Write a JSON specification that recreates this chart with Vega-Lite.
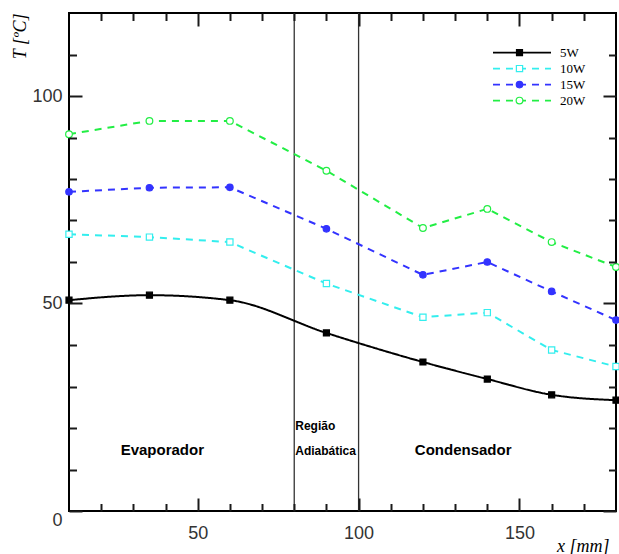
{
  "$schema": "https://vega.github.io/schema/vega-lite/v6.json",
  "width": 547,
  "height": 498,
  "autosize": {"type": "none"},
  "padding": {"left": 69, "top": 13, "right": 3, "bottom": 43},
  "background": "white",
  "config": {
    "view": {"stroke": "black", "strokeWidth": 2},
    "axis": {"grid": false, "labelFont": "Liberation Sans", "labelFontSize": 18, "labelColor": "#333333", "labelFlush": false, "labelAngle": 0}
  },
  "datasets": {
    "temps": [
      {"serie": "5W", "P": 5, "x": 10, "T": 50.8},
      {"serie": "5W", "P": 5, "x": 35, "T": 52},
      {"serie": "5W", "P": 5, "x": 60, "T": 50.8},
      {"serie": "5W", "P": 5, "x": 90, "T": 42.9},
      {"serie": "5W", "P": 5, "x": 120, "T": 35.9},
      {"serie": "5W", "P": 5, "x": 140, "T": 31.8},
      {"serie": "5W", "P": 5, "x": 160, "T": 28},
      {"serie": "5W", "P": 5, "x": 180, "T": 26.7},
      {"serie": "10W", "P": 10, "x": 10, "T": 66.7},
      {"serie": "10W", "P": 10, "x": 35, "T": 66},
      {"serie": "10W", "P": 10, "x": 60, "T": 64.8},
      {"serie": "10W", "P": 10, "x": 90, "T": 54.8},
      {"serie": "10W", "P": 10, "x": 120, "T": 46.7},
      {"serie": "10W", "P": 10, "x": 140, "T": 47.8},
      {"serie": "10W", "P": 10, "x": 160, "T": 38.8},
      {"serie": "10W", "P": 10, "x": 180, "T": 34.8},
      {"serie": "15W", "P": 15, "x": 10, "T": 76.9},
      {"serie": "15W", "P": 15, "x": 35, "T": 77.9},
      {"serie": "15W", "P": 15, "x": 60, "T": 78},
      {"serie": "15W", "P": 15, "x": 90, "T": 68},
      {"serie": "15W", "P": 15, "x": 120, "T": 56.9},
      {"serie": "15W", "P": 15, "x": 140, "T": 60},
      {"serie": "15W", "P": 15, "x": 160, "T": 52.9},
      {"serie": "15W", "P": 15, "x": 180, "T": 46},
      {"serie": "20W", "P": 20, "x": 10, "T": 90.8},
      {"serie": "20W", "P": 20, "x": 35, "T": 94},
      {"serie": "20W", "P": 20, "x": 60, "T": 94},
      {"serie": "20W", "P": 20, "x": 90, "T": 82},
      {"serie": "20W", "P": 20, "x": 120, "T": 68.2},
      {"serie": "20W", "P": 20, "x": 140, "T": 72.8},
      {"serie": "20W", "P": 20, "x": 160, "T": 64.8},
      {"serie": "20W", "P": 20, "x": 180, "T": 58.8}
    ],
    "verticals": [{"x": 80}, {"x": 100}],
    "regions": [
      {"x": 39, "T": 14.7, "label": "Evaporador"},
      {"x": 132.5, "T": 14.7, "label": "Condensador"}
    ],
    "adiab": [
      {"x": 80, "T": 20.6, "label": "Região"},
      {"x": 80, "T": 14.5, "label": "Adiabática"}
    ]
  },
  "layer": [
    {
      "data": {"name": "verticals"},
      "mark": {"type": "rule", "color": "#333333", "strokeWidth": 1.3},
      "encoding": {
        "x": {"field": "x", "type": "quantitative", "scale": {"domain": [10, 180], "nice": false, "zero": false},
              "axis": {"orient": "top", "values": [20, 30, 40, 60, 70, 80, 90, 110, 120, 130, 140, 160, 170], "domain": false, "ticks": true, "tickColor": "#1a1a1a", "tickWidth": 2, "tickSize": -7.5, "labels": false, "title": null, "zindex": 1}}
      }
    },
    {
      "data": {"name": "temps"},
      "transform": [{"filter": "datum.serie == '5W'"}],
      "mark": {"type": "line", "interpolate": "monotone", "strokeWidth": 2},
      "encoding": {
        "x": {"field": "x", "type": "quantitative", "scale": {"domain": [10, 180], "nice": false, "zero": false},
              "axis": {"orient": "bottom", "values": [50, 100, 150], "domain": false, "ticks": true, "tickColor": "#1a1a1a", "tickWidth": 2, "tickSize": -13, "labelPadding": 26, "zindex": 1,
                       "title": "x [mm]", "titleFont": "Liberation Serif", "titleFontStyle": "italic", "titleFontSize": 18, "titleFontWeight": "normal", "titleColor": "black",
                       "titleX": 540, "titleY": 40, "titleAlign": "right", "titleBaseline": "alphabetic"}},
        "y": {"field": "T", "type": "quantitative", "scale": {"domain": [0, 120], "nice": false},
              "axis": {"orient": "left", "values": [0, 50, 100], "domain": false, "ticks": true, "tickColor": "#1a1a1a", "tickWidth": 2, "tickSize": -13, "labelPadding": 20, "zindex": 1,
                       "labelBaseline": {"condition": {"test": "datum.value == 0", "value": "top"}, "value": "middle"},
                       "title": "T [ºC]", "titleFont": "Liberation Serif", "titleFontStyle": "italic", "titleFontSize": 18, "titleFontWeight": "normal", "titleColor": "black",
                       "titleAngle": -90, "titleX": -49, "titleY": 0, "titleAlign": "right", "titleBaseline": "middle"}},
        "color": {"field": "serie", "type": "nominal",
                  "scale": {"domain": ["5W", "10W", "15W", "20W"], "range": ["black", "#33eeee", "#3333ff", "#22ee44"]},
                  "legend": {"orient": "none", "legendX": 423, "legendY": 32, "title": null, "padding": 0, "symbolType": "stroke", "symbolSize": 3364, "symbolStrokeWidth": 1.8, "labelOffset": 8, "labelFont": "Liberation Serif", "labelFontSize": 13, "labelColor": "black", "clipHeight": 15.2, "rowPadding": 0}},
        "strokeDash": {"field": "serie", "type": "nominal",
                       "scale": {"domain": ["5W", "10W", "15W", "20W"], "range": [[1, 0], [7, 6], [7, 6], [7, 6]]},
                       "legend": {"orient": "none", "legendX": 423, "legendY": 32, "title": null, "padding": 0, "symbolType": "stroke", "symbolSize": 3364, "symbolStrokeWidth": 1.8, "labelOffset": 8, "labelFont": "Liberation Serif", "labelFontSize": 13, "labelColor": "black", "clipHeight": 15.2, "rowPadding": 0}}
      }
    },
    {
      "data": {"name": "temps"},
      "transform": [{"filter": "datum.serie != '5W'"}],
      "mark": {"type": "line", "strokeWidth": 2},
      "encoding": {
        "x": {"field": "x", "type": "quantitative", "scale": {"domain": [10, 180], "nice": false, "zero": false},
              "axis": {"orient": "bottom", "values": [20, 30, 40, 60, 70, 80, 90, 110, 120, 130, 140, 160, 170], "domain": false, "ticks": true, "tickColor": "#1a1a1a", "tickWidth": 2, "tickSize": -7.5, "labels": false, "title": null, "zindex": 1}},
        "y": {"field": "T", "type": "quantitative", "scale": {"domain": [0, 120], "nice": false},
              "axis": {"orient": "left", "values": [10, 20, 30, 40, 60, 70, 80, 90, 110], "domain": false, "ticks": true, "tickColor": "#1a1a1a", "tickWidth": 2, "tickSize": -7.5, "labels": false, "title": null, "zindex": 1}},
        "color": {"field": "serie", "type": "nominal",
                  "scale": {"domain": ["5W", "10W", "15W", "20W"], "range": ["black", "#33eeee", "#3333ff", "#22ee44"]},
                  "legend": {"orient": "none", "legendX": 423, "legendY": 32, "title": null, "padding": 0, "symbolType": "stroke", "symbolSize": 3364, "symbolStrokeWidth": 1.8, "labelOffset": 8, "labelFont": "Liberation Serif", "labelFontSize": 13, "labelColor": "black", "clipHeight": 15.2, "rowPadding": 0}},
        "strokeDash": {"field": "serie", "type": "nominal",
                       "scale": {"domain": ["5W", "10W", "15W", "20W"], "range": [[1, 0], [7, 6], [7, 6], [7, 6]]},
                       "legend": {"orient": "none", "legendX": 423, "legendY": 32, "title": null, "padding": 0, "symbolType": "stroke", "symbolSize": 3364, "symbolStrokeWidth": 1.8, "labelOffset": 8, "labelFont": "Liberation Serif", "labelFontSize": 13, "labelColor": "black", "clipHeight": 15.2, "rowPadding": 0}}
      }
    },
    {
      "data": {"name": "temps"},
      "mark": {"type": "point", "opacity": 1, "strokeWidth": 1.2},
      "encoding": {
        "x": {"field": "x", "type": "quantitative", "scale": {"domain": [10, 180], "nice": false, "zero": false},
              "axis": {"orient": "top", "values": [50, 100, 150], "domain": false, "ticks": true, "tickColor": "#1a1a1a", "tickWidth": 2, "tickSize": -13, "labels": false, "title": null, "zindex": 1}},
        "y": {"field": "T", "type": "quantitative", "scale": {"domain": [0, 120], "nice": false},
              "axis": {"orient": "right", "values": [0, 50, 100], "domain": false, "ticks": true, "tickColor": "#1a1a1a", "tickWidth": 2, "tickSize": -13, "labels": false, "title": null, "zindex": 1}},
        "fill": {"field": "P", "type": "ordinal", "scale": {"domain": [5, 10, 15, 20], "range": ["black", "white", "#3333ff", "white"]},
                 "legend": {"orient": "none", "legendX": 445.5, "legendY": 32, "title": null, "padding": 0, "labelOpacity": 0, "clipHeight": 15.2, "rowPadding": 0, "symbolStrokeWidth": 1.2}},
        "stroke": {"field": "P", "type": "ordinal", "scale": {"domain": [5, 10, 15, 20], "range": ["black", "#33eeee", "#3333ff", "#22ee44"]},
                   "legend": {"orient": "none", "legendX": 445.5, "legendY": 32, "title": null, "padding": 0, "labelOpacity": 0, "clipHeight": 15.2, "rowPadding": 0, "symbolStrokeWidth": 1.2}},
        "shape": {"field": "P", "type": "ordinal", "scale": {"domain": [5, 10, 15, 20], "range": ["square", "square", "circle", "circle"]},
                  "legend": {"orient": "none", "legendX": 445.5, "legendY": 32, "title": null, "padding": 0, "labelOpacity": 0, "clipHeight": 15.2, "rowPadding": 0, "symbolStrokeWidth": 1.2}},
        "size": {"field": "P", "type": "ordinal", "scale": {"domain": [5, 10, 15, 20], "range": [36, 45, 75, 80]},
                 "legend": {"orient": "none", "legendX": 445.5, "legendY": 32, "title": null, "padding": 0, "labelOpacity": 0, "clipHeight": 15.2, "rowPadding": 0, "symbolStrokeWidth": 1.2}}
      }
    },
    {
      "data": {"name": "regions"},
      "mark": {"type": "text", "font": "Liberation Sans", "fontSize": 15, "fontWeight": "bold", "color": "black", "baseline": "middle", "align": "center"},
      "encoding": {
        "x": {"field": "x", "type": "quantitative", "scale": {"domain": [10, 180], "nice": false, "zero": false}, "axis": null},
        "y": {"field": "T", "type": "quantitative", "scale": {"domain": [0, 120], "nice": false},
              "axis": {"orient": "right", "values": [10, 20, 30, 40, 60, 70, 80, 90, 110], "domain": false, "ticks": true, "tickColor": "#1a1a1a", "tickWidth": 2, "tickSize": -7.5, "labels": false, "title": null, "zindex": 1}},
        "text": {"field": "label", "type": "nominal"}
      }
    },
    {
      "data": {"name": "adiab"},
      "mark": {"type": "text", "font": "Liberation Sans", "fontSize": 12, "fontWeight": "bold", "color": "black", "baseline": "middle", "align": "left", "dx": 1},
      "encoding": {
        "x": {"field": "x", "type": "quantitative", "scale": {"domain": [10, 180], "nice": false, "zero": false}, "axis": null},
        "y": {"field": "T", "type": "quantitative", "scale": {"domain": [0, 120], "nice": false}, "axis": null},
        "text": {"field": "label", "type": "nominal"}
      }
    }
  ],
  "resolve": {"axis": {"x": "independent", "y": "independent"}}
}
